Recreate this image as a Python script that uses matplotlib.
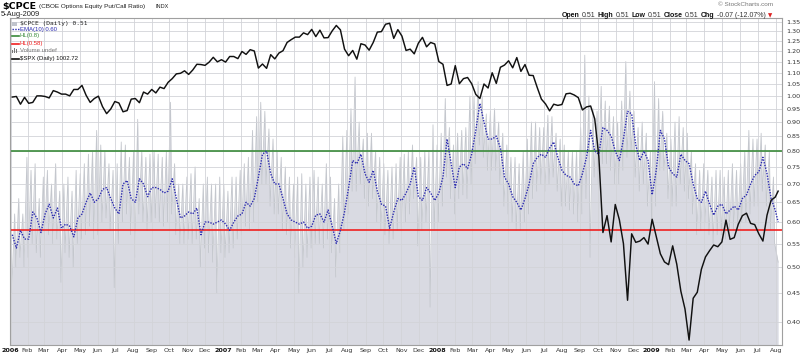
import matplotlib

matplotlib.use("Agg")
import matplotlib.pyplot as plt
from matplotlib.lines import Line2D
from matplotlib.patches import Rectangle
from matplotlib.ticker import NullLocator, FormatStrFormatter
import pandas as pd

W, H = 800, 356

# weekly samples (Fridays), plus the last bar on 5-Aug-2009
week_end = pd.date_range("2006-01-06", "2009-07-31", freq="W-FRI")
last_day = pd.Timestamp("2009-08-05")

cpce_high = [
    .64, .62, .66, .62, .78, .74, .76, .66, .72, .74,
    .70, .76, .68, .70, .72, .68, .74, .73, .76, .79,
    .80, .87, .82, .80, .76, .74, .76, .83, .82, .78,
    .80, .91, .80, .78, .79, .80, .79, .78, .80, .975,
    .76, .70, .70, .72, .73, .75, .66, .70, .72, .70,
    .70, .72, .70, .68, .72, .72, .74, .76, .78, .87,
    .92, .975, .94, .875, .84, .80, .78, .75, .72, .70,
    .72, .73, .70, .72, .74, .72, .70, .76, .72, .66,
    .70, .85, .87, .95, 1.08, .90, .84, .86, .86, .80,
    .78, .76, .74, .75, .76, .78, .79, .80, .82, .78,
    .78, .80, .80, .89, .82, .86, .99, .88, .82, .86,
    .87, .88, 1.0, 1.0, 1.06, 1.0, .93, .94, .95, .90,
    .86, .82, .78, .78, .76, .80, .84, .90, .90, .88,
    .88, .925, .92, .86, .84, .82, .80, .80, .80, .88,
    1.18, 1.0, .95, .94, 1.04, .98, .96, .92, .90, .98,
    1.15, 1.02, .94, .88, .90, .86, .80, 1.06, .99, .94,
    .86, .84, .90, .92, .88, .86, .80, .76, .74, .76,
    .74, .72, .74, .74, .72, .74, .76, .74, .76, .80,
    .87, .84, .84, .86, .82, .80, .72,
]
cpce_low = [
    .45, .50, .52, .50, .52, .55, .53, .52, .56, .57,
    .55, .56, .47, .53, .52, .50, .55, .56, .57, .59,
    .56, .57, .60, .61, .58, .46, .55, .60, .62, .57,
    .52, .62, .60, .58, .60, .61, .60, .59, .60, .62,
    .57, .55, .55, .56, .55, .56, .50, .54, .53, .51,
    .45, .53, .52, .53, .54, .56, .57, .59, .58, .60,
    .65, .70, .70, .64, .62, .62, .58, .57, .54, .52,
    .45, .50, .52, .54, .55, .55, .54, .56, .53, .48,
    .53, .58, .62, .68, .68, .70, .66, .64, .66, .60,
    .58, .57, .55, .56, .58, .58, .60, .62, .66, .545,
    .58, .60, .425, .58, .60, .64, .72, .66, .62, .66,
    .67, .66, .70, .76, .82, .78, .74, .74, .74, .70,
    .64, .62, .60, .58, .58, .60, .62, .66, .68, .70,
    .68, .70, .72, .68, .64, .64, .63, .62, .60, .62,
    .66, .52, .72, .70, .76, .76, .74, .70, .70, .74,
    .78, .80, .72, .68, .70, .64, .60, .64, .74, .74,
    .66, .64, .64, .70, .68, .66, .62, .57, .58, .60,
    .57, .55, .57, .57, .56, .57, .58, .58, .60, .60,
    .62, .64, .64, .68, .64, .58, .55,
]
cpce_last = 0.51

ema10 = [
    .57, .54, .58, .56, .56, .625, .61, .575, .62, .645,
    .61, .635, .585, .595, .59, .565, .61, .62, .65, .675,
    .65, .66, .685, .69, .66, .635, .62, .70, .71, .66,
    .65, .715, .70, .665, .69, .69, .685, .675, .68, .715,
    .66, .61, .615, .625, .62, .635, .57, .60, .60, .595,
    .60, .605, .595, .58, .60, .615, .62, .65, .64, .66,
    .72, .79, .80, .73, .70, .70, .66, .62, .605, .60,
    .595, .60, .585, .59, .617, .62, .60, .63, .59, .55,
    .58, .625, .69, .77, .76, .79, .73, .705, .74, .68,
    .645, .64, .585, .625, .66, .655, .675, .70, .75, .665,
    .655, .69, .675, .655, .675, .72, .84, .76, .69, .75,
    .76, .745, .79, .87, .97, .90, .84, .84, .85, .81,
    .72, .70, .665, .65, .63, .66, .70, .76, .78, .79,
    .78, .81, .83, .78, .74, .725, .72, .70, .695, .73,
    .78, .87, .80, .79, .88, .87, .85, .80, .77, .84,
    .94, .93, .82, .77, .80, .77, .67, .74, .87, .84,
    .75, .73, .72, .79, .77, .76, .70, .66, .65, .68,
    .645, .617, .64, .645, .62, .63, .64, .63, .66, .67,
    .70, .725, .735, .78, .73, .66, .63,
]
ema_last = 0.60

spx = [
    1285, 1287, 1261, 1284, 1264, 1267, 1289, 1289, 1287, 1282,
    1307, 1302, 1295, 1295, 1289, 1311, 1311, 1325, 1291, 1267,
    1280, 1288, 1253, 1230, 1245, 1270, 1265, 1236, 1240, 1278,
    1280, 1266, 1302, 1295, 1311, 1299, 1319, 1314, 1336, 1349,
    1366, 1368, 1377, 1364, 1380, 1401, 1400, 1397, 1409, 1427,
    1410, 1418, 1409, 1430, 1430, 1422, 1449, 1438, 1456, 1451,
    1387, 1402, 1386, 1437, 1421, 1443, 1452, 1484, 1495, 1505,
    1505, 1522, 1515, 1536, 1507, 1533, 1502, 1503, 1530, 1552,
    1534, 1458, 1433, 1453, 1420, 1479, 1474, 1454, 1484, 1525,
    1527, 1557, 1561, 1500, 1535, 1509, 1453, 1458, 1440, 1481,
    1504, 1467, 1484, 1478, 1411, 1401, 1325, 1330, 1396, 1331,
    1349, 1353, 1331, 1294, 1280, 1330, 1316, 1370, 1332, 1390,
    1398, 1414, 1388, 1426, 1375, 1400, 1361, 1360, 1317, 1278,
    1262, 1239, 1261, 1257, 1260, 1296, 1298, 1292, 1283, 1242,
    1252, 1255, 1213, 1099, 899, 940, 877, 968, 930, 873,
    752, 896, 876, 879, 887, 872, 931, 890, 850, 832,
    826, 868, 827, 770, 735, 677, 756, 768, 816, 843,
    857, 870, 866, 877, 929, 883, 887, 919, 940, 946,
    921, 918, 896, 879, 941, 979, 987,
]
spx_last = 1002.72

hl_high = 0.80
hl_low = 0.58

price_ticks = [0.40, 0.45, 0.50, 0.55, 0.60, 0.65, 0.70, 0.75, 0.80, 0.85,
               0.90, 0.95, 1.00, 1.05, 1.10, 1.15, 1.20, 1.25, 1.30, 1.35]

FILL = "#d9dae2"
SPIKE = "#c4c7cd"
GRID = "#d2d3d8"
EMA_C = "#2b2bb0"
GREEN = "#3a8a3a"
RED = "#f02020"


def fx(x):
    return x / W


def fy(y):
    return 1 - y / H


# CPCE area: weekly spike top then dip, giving the daily saw-tooth look
area_x, area_y = [], []
for d, hi, lo in zip(week_end, cpce_high, cpce_low):
    area_x += [d - pd.Timedelta(days=3), d - pd.Timedelta(days=1)]
    area_y += [hi, lo]
area_x.append(last_day)
area_y.append(cpce_last)

line_x = list(week_end) + [last_day]
ema_y = ema10 + [ema_last]
spx_y = spx + [spx_last]

fig = plt.figure(figsize=(W / 100, H / 100), dpi=100)
ax = fig.add_axes([fx(10), fy(345), (782 - 10) / W, (345 - 18) / H])

# SPX overlay on its own hidden log scale (twinx resets ax ticks, so make it first)
ax2 = ax.twinx()
ax2.set_yscale("log")
ax2.set_ylim(668.3, 1582.8)
ax2.plot(line_x, spx_y, color="#111111", lw=1.05)
ax2.set_axis_off()

ax.set_yscale("log")
ax.set_ylim(0.3645, 1.372)
ax.set_xlim(pd.Timestamp("2006-01-02 03:00"), pd.Timestamp("2009-08-11 14:00"))

ax.fill_between(area_x, 0.3, area_y, color=FILL, lw=0, zorder=0.5)
ax.plot(area_x, area_y, color=SPIKE, lw=0.6, zorder=0.6)
ax.axhline(hl_high, color=GREEN, lw=1.2, zorder=2)
ax.axhline(hl_low, color=RED, lw=1.2, zorder=2)
ax.plot(line_x, ema_y, color=EMA_C, lw=1.0, ls=(0, (1, 1)), zorder=3)

# y axis on the right
ax.set_yticks(price_ticks)
ax.yaxis.set_minor_locator(NullLocator())
ax.yaxis.set_major_formatter(FormatStrFormatter("%.2f"))
ax.yaxis.tick_right()
ax.tick_params(axis="y", which="both", left=False, labelleft=False, right=False,
               labelright=True, length=0, pad=3, labelsize=4.6, labelcolor="#333333")

# x axis: month starts, year in bold
months = pd.date_range("2006-02-01", "2009-08-01", freq="MS")
xt = [pd.Timestamp("2006-01-03")] + list(months)
xl = ["2006"] + [str(m.year) if m.month == 1 else m.strftime("%b") for m in months]
ax.set_xticks(xt)
ax.set_xticklabels(xl)
ax.tick_params(axis="x", length=0, pad=2.5, labelsize=4.6, labelcolor="#333333")
for lab in ax.get_xticklabels():
    if lab.get_text().isdigit():
        lab.set_fontweight("bold")
        lab.set_color("#111111")

ax.grid(True, color=GRID, lw=0.6, zorder=1)
for s in ax.spines.values():
    s.set_color("#a0a0a0")
    s.set_linewidth(0.8)

# header
fig.text(fx(2), fy(6), "$CPCE", fontsize=6.8, fontweight="bold", va="center", ha="left")
fig.text(fx(39), fy(6.5), "(CBOE Options Equity Put/Call Ratio)", fontsize=4.6,
         family="Liberation Sans", va="center", ha="left", color="#222222")
fig.text(fx(155), fy(6.5), "INDX", fontsize=4.0, family="Liberation Sans",
         va="center", ha="left", color="#222222")
fig.text(fx(1), fy(15), "5-Aug-2009", fontsize=5.4, family="Liberation Sans",
         va="center", ha="left", color="#222222")
fig.text(fx(773), fy(5), "\u00a9 StockCharts.com", fontsize=4.6, family="Liberation Sans",
         va="center", ha="right", color="#777777")

renderer = fig.canvas.get_renderer()
runs = [("Open", "bold", "#111111"), ("0.51", "normal", "#333333"),
        ("High", "bold", "#111111"), ("0.51", "normal", "#333333"),
        ("Low", "bold", "#111111"), ("0.51", "normal", "#333333"),
        ("Close", "bold", "#111111"), ("0.51", "normal", "#333333"),
        ("Chg", "bold", "#111111"), ("-0.07 (-12.07%)", "normal", "#333333")]
x = 562
for s, weight, color in runs:
    t = fig.text(fx(x), fy(15.5), s, fontsize=5.0, fontweight=weight, color=color,
                 family="Liberation Sans", va="center", ha="left")
    x += t.get_window_extent(renderer=renderer).width + 2.2
fig.text(fx(x), fy(15.5), "\u25bc", fontsize=4.0, color="#dd2222", va="center", ha="left")

# legend block inside the plot
leg = [
    (23.5, "$CPCE (Daily) 0.51", "#222222", "DejaVu Sans Mono", 4.5),
    (29, "EMA(10) 0.60", "#2b2bb0", "Liberation Sans", 4.3),
    (36, "HL(0.8)", GREEN, "Liberation Sans", 4.3),
    (43.5, "HL(0.58)", RED, "Liberation Sans", 4.3),
    (51, "Volume undef", "#777777", "Liberation Sans", 4.3),
    (58.5, "$SPX (Daily) 1002.72", "#111111", "Liberation Sans", 4.3),
]
for y, s, c, fam, size in leg:
    fig.text(fx(19.5), fy(y), s, color=c, family=fam, fontsize=size, va="center", ha="left")

fig.add_artist(Rectangle((fx(12), fy(26)), 5 / W, 4 / H, color="#c0c4cc", lw=0))
fig.add_artist(Line2D([fx(12), fx(18.5)], [fy(29)] * 2, color=EMA_C, lw=1.0, ls=(0, (1, 1))))
fig.add_artist(Line2D([fx(12), fx(18.5)], [fy(36)] * 2, color=GREEN, lw=1.2))
fig.add_artist(Line2D([fx(12), fx(18.5)], [fy(43.5)] * 2, color=RED, lw=1.2))
for bx, bh in [(12, 3), (14, 5), (16, 4)]:
    fig.add_artist(Rectangle((fx(bx), fy(53)), 1.4 / W, bh / H, color="#777777", lw=0))
fig.add_artist(Line2D([fx(12), fx(18.5)], [fy(58.5)] * 2, color="#111111", lw=1.2))

fig.savefig("out.png", dpi=100)
